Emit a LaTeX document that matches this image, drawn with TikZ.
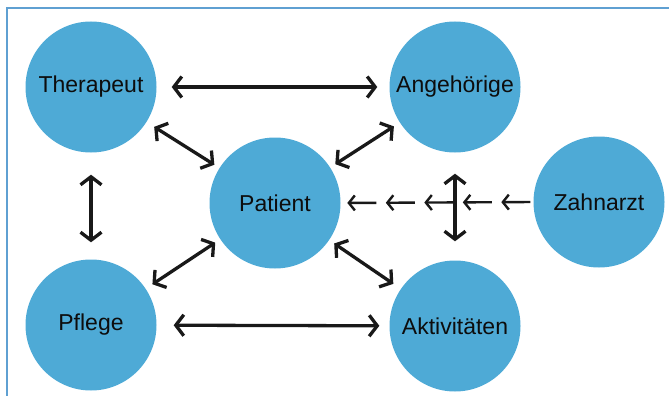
\documentclass[tikz,border=0pt]{standalone}
\usepackage{fontspec}
\setmainfont{Liberation Sans}
\usetikzlibrary{arrows.meta, calc}
\definecolor{kreis}{RGB}{78,170,214}
\definecolor{rahmen}{RGB}{95,160,210}

\begin{document}
\begin{tikzpicture}[x=1pt, y=-1pt,
    font=\fontsize{23}{26}\selectfont,
    rolle/.style={circle, fill=kreis, minimum size=131pt, inner sep=0pt, text=black!95},
    bez/.style={{Straight Barb[length=8pt, width=21pt]}-{Straight Barb[length=8pt, width=21pt]}, line width=3.3pt, black!90},
    klein/.style={-{Straight Barb[length=6pt, width=15pt]}, line width=2.4pt, black!90}]
    \useasboundingbox (0,0) rectangle (669,396);
    \draw[rahmen, line width=1.5pt] (7,396) -- (7,8) -- (669,8);

    \node[rolle] (therapeut) at (91,87) {Therapeut};
    \node[rolle] (angeh) at (455,87) {Angehörige};
    \node[rolle] (patient) at (275,203) {Patient};
    \node[rolle] (zahnarzt) at (599,202) {Zahnarzt};
    \node[rolle] (pflege) at (91,325) {Pflege};
    \node[rolle] (aktiv) at (455,326) {Aktivitäten};

    \draw[bez, shorten <=15pt, shorten >=12pt] (therapeut) -- (angeh);
    \draw[bez, shorten <=17pt, shorten >=10pt] (pflege) -- (aktiv);
    \draw[bez, shorten <=22pt, shorten >=17pt] (therapeut) -- (pflege);
    \draw[bez, shorten <=21pt, shorten >=19pt] (angeh) -- (aktiv);
    \draw[bez, shorten <=9pt, shorten >=6pt] (therapeut) -- (patient);
    \draw[bez, shorten <=7pt, shorten >=6pt] (angeh) -- (patient);
    \draw[bez, shorten <=8pt, shorten >=6pt] (pflege) -- (patient);
    \draw[bez, shorten <=6pt, shorten >=9pt] (patient) -- (aktiv);

    \foreach \k in {0,...,4}
        \draw[klein] ($(zahnarzt.west)!\k*38.5pt+3pt!(patient.east)$) -- ($(zahnarzt.west)!\k*38.5pt+32pt!(patient.east)$);
\end{tikzpicture}
\end{document}
